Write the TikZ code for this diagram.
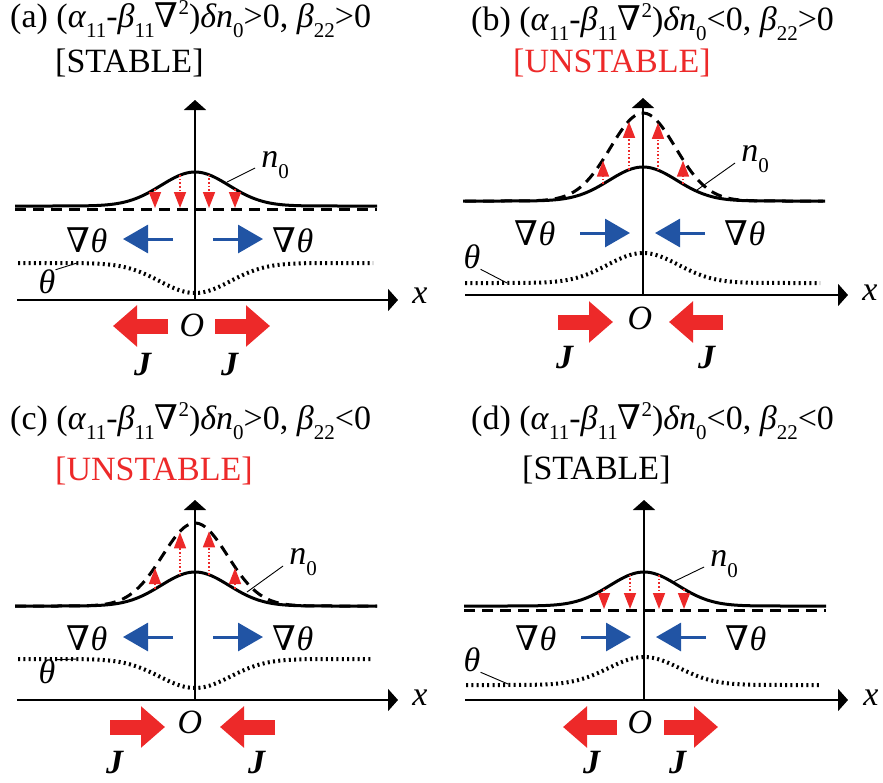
\documentclass[tikz,border=0pt]{standalone}
\usepackage{fontspec}
\setmainfont{Liberation Serif}
\newfontfamily\nablafont{DejaVu Serif}
\usetikzlibrary{arrows.meta}

\definecolor{arrred}{RGB}{237,41,41}
\definecolor{arrblue}{RGB}{33,84,164}

\newcommand{\lowidx}[1]{\raisebox{-0.3em}{\fontsize{21}{21}\selectfont #1}}
\newcommand{\upidx}[1]{\raisebox{0.36em}{\fontsize{21}{21}\selectfont #1}}
\newcommand{\nab}{{\nablafont\symbol{"2207}}}

\tikzset{
  axis/.style={line width=2pt,-{Triangle[width=22pt,length=10pt]}},
  prof/.style={line width=3pt},
  pert/.style={line width=3pt,dash pattern=on 11pt off 7pt},
  thetaline/.style={line width=4pt,dash pattern=on 2pt off 3.3pt},
  leader/.style={line width=0.9pt},
  growarr/.style={arrred,line width=1.6pt,dash pattern=on 1.6pt off 2pt,-{Triangle[width=12pt,length=16pt]}},
  gradarr/.style={arrblue,line width=3pt,-{Triangle[width=28pt,length=25pt]}},
  fluxarr/.style={arrred,line width=15pt,-{Triangle[width=40pt,length=24pt]}},
  lbl/.style={inner sep=0pt,font=\fontsize{34}{36}\selectfont},
}

\begin{document}
\begin{tikzpicture}[x=1pt,y=-1pt,declare function={bump(\t,\s)=exp(-(\t/\s)*(\t/\s));}]
  \useasboundingbox (0,0) rectangle (883,782);

  % --- titles ---
  \node[lbl,anchor=base west] (titlea) at (10,27) {(a) (\textit{α}\lowidx{11}-\textit{β}\lowidx{11}\nab\upidx{2})\textit{δn}\lowidx{0}>0, \textit{β}\lowidx{22}>0};
  \node[lbl,anchor=base west] (statea) at (55,72) {[STABLE]};
  \node[lbl,anchor=base west] (titleb) at (471,30) {(b) (\textit{α}\lowidx{11}-\textit{β}\lowidx{11}\nab\upidx{2})\textit{δn}\lowidx{0}<0, \textit{β}\lowidx{22}>0};
  \node[lbl,anchor=base west,text=arrred] (stateb) at (513,72) {[UNSTABLE]};
  \node[lbl,anchor=base west] (titlec) at (10,429) {(c) (\textit{α}\lowidx{11}-\textit{β}\lowidx{11}\nab\upidx{2})\textit{δn}\lowidx{0}>0, \textit{β}\lowidx{22}<0};
  \node[lbl,anchor=base west,text=arrred] (statec) at (55,480) {[UNSTABLE]};
  \node[lbl,anchor=base west] (titled) at (471,429) {(d) (\textit{α}\lowidx{11}-\textit{β}\lowidx{11}\nab\upidx{2})\textit{δn}\lowidx{0}<0, \textit{β}\lowidx{22}<0};
  \node[lbl,anchor=base west] (stated) at (522,479) {[STABLE]};

  % --- (a) ---
  \begin{scope}[shift={(195,300)}]
    \draw[pert] (-180,-91) -- (182,-91);
    \draw[prof] plot[domain=-180:182,samples=121] (\x,{-94-34*bump(\x,48)});
    \draw[thetaline] plot[domain=-177:178,samples=121] (\x,{-37+30*bump(\x,50)});
    \draw[axis] (-178,0) -- (203,0);
    \draw[axis] (0,0) -- (0,-200);
    \draw[growarr] (-40,{-94-34*bump(-40,48)}) -- (-40,-92);
    \draw[growarr] (-15,{-94-34*bump(-15,48)}) -- (-15,-92);
    \draw[growarr] (14,{-94-34*bump(14,48)}) -- (14,-92);
    \draw[growarr] (40,{-94-34*bump(40,48)}) -- (40,-92);
    \node[lbl] (n0a) at (80,-135) {\textit{n}\lowidx{0}};
    \coordinate (n0a-end) at (32,-118);
    \draw[leader] (n0a.west) ++(-6,3) -- (n0a-end);
    \node[lbl] (gla) at (-108,-60) {\nab\textit{θ}};
    \node[lbl] (gra) at (98,-60) {\nab\textit{θ}};
    \draw[gradarr] (-22,-61) -- (-72,-61);
    \draw[gradarr] (18,-61) -- (68,-61);
    \node[lbl] (tha) at (-148,-18) {\textit{θ}};
    \coordinate (tha-end) at (-118,-37);
    \draw[leader] (tha.north east) -- (tha-end);
    \node[lbl] (Oa) at (-3,25) {\textit{O}};
    \draw[fluxarr] (-27,26) -- (-82,26);
    \draw[fluxarr] (20,26) -- (75,26);
    \node[lbl] (Jla) at (-52,65) {\textbf{\textit{J}}};
    \node[lbl] (Jra) at (35,65) {\textbf{\textit{J}}};
    \node[lbl] (xa) at (225,-4) {\textit{x}};
  \end{scope}

  % --- (b) ---
  \begin{scope}[shift={(643,295)}]
    \draw[pert] plot[domain=-178:180,samples=121] (\x,{-94-88*bump(\x,46)});
    \draw[prof] plot[domain=-180:182,samples=121] (\x,{-94-34*bump(\x,48)});
    \draw[thetaline] plot[domain=-178:177,samples=121] (\x,{-12-30*bump(\x,50)});
    \draw[axis] (-178,0) -- (205,0);
    \draw[axis] (0,0) -- (0,-197);
    \draw[growarr] (-40,{-94-34*bump(-40,48)}) -- (-40,{-93-88*bump(-40,46)});
    \draw[growarr] (-14,{-94-34*bump(-14,48)}) -- (-14,{-93-88*bump(-14,46)});
    \draw[growarr] (15,{-94-34*bump(15,48)}) -- (15,{-93-88*bump(15,46)});
    \draw[growarr] (40,{-94-34*bump(40,48)}) -- (40,{-93-88*bump(40,46)});
    \node[lbl] (n0b) at (112,-136) {\textit{n}\lowidx{0}};
    \coordinate (n0b-end) at (54,-105);
    \draw[leader] (n0b.west) ++(-6,4) -- (n0b-end);
    \node[lbl] (glb) at (-108,-62) {\nab\textit{θ}};
    \node[lbl] (grb) at (102,-62) {\nab\textit{θ}};
    \draw[gradarr] (-63,-62) -- (-13,-62);
    \draw[gradarr] (62,-62) -- (12,-62);
    \node[lbl] (thb) at (-171,-38) {\textit{θ}};
    \coordinate (thb-end) at (-136,-12);
    \draw[leader] (thb.south east) -- (thb-end);
    \node[lbl] (Ob) at (-3,23) {\textit{O}};
    \draw[fluxarr] (-85,27) -- (-30,27);
    \draw[fluxarr] (80,27) -- (26,27);
    \node[lbl] (Jlb) at (-78,63) {\textbf{\textit{J}}};
    \node[lbl] (Jrb) at (64,63) {\textbf{\textit{J}}};
    \node[lbl] (xb) at (227,-2) {\textit{x}};
  \end{scope}

  % --- (c) ---
  \begin{scope}[shift={(195,700)}]
    \draw[pert] plot[domain=-180:182,samples=121] (\x,{-94-83*bump(\x,46)});
    \draw[prof] plot[domain=-180:182,samples=121] (\x,{-94-34*bump(\x,48)});
    \draw[thetaline] plot[domain=-177:178,samples=121] (\x,{-41+29*bump(\x,50)});
    \draw[axis] (-178,0) -- (203,0);
    \draw[axis] (0,0) -- (0,-200);
    \draw[growarr] (-40,{-94-34*bump(-40,48)}) -- (-40,{-93-83*bump(-40,46)});
    \draw[growarr] (-15,{-94-34*bump(-15,48)}) -- (-15,{-93-83*bump(-15,46)});
    \draw[growarr] (14,{-94-34*bump(14,48)}) -- (14,{-93-83*bump(14,46)});
    \draw[growarr] (40,{-94-34*bump(40,48)}) -- (40,{-93-83*bump(40,46)});
    \node[lbl] (n0c) at (108,-138) {\textit{n}\lowidx{0}};
    \coordinate (n0c-end) at (52,-108);
    \draw[leader] (n0c.west) ++(-6,4) -- (n0c-end);
    \node[lbl] (glc) at (-108,-62) {\nab\textit{θ}};
    \node[lbl] (grc) at (98,-62) {\nab\textit{θ}};
    \draw[gradarr] (-22,-63) -- (-72,-63);
    \draw[gradarr] (18,-63) -- (68,-63);
    \node[lbl] (thc) at (-148,-28) {\textit{θ}};
    \coordinate (thc-end) at (-118,-41);
    \draw[leader] (thc.north east) -- (thc-end);
    \node[lbl] (Oc) at (-5,22) {\textit{O}};
    \draw[fluxarr] (-85,27) -- (-30,27);
    \draw[fluxarr] (80,27) -- (25,27);
    \node[lbl] (Jlc) at (-80,63) {\textbf{\textit{J}}};
    \node[lbl] (Jrc) at (62,63) {\textbf{\textit{J}}};
    \node[lbl] (xc) at (225,-2) {\textit{x}};
  \end{scope}

  % --- (d) ---
  \begin{scope}[shift={(644,700)}]
    \draw[pert] (-180,-90) -- (182,-90);
    \draw[prof] plot[domain=-180:182,samples=121] (\x,{-94-34*bump(\x,48)});
    \draw[thetaline] plot[domain=-178:177,samples=121] (\x,{-15-28*bump(\x,50)});
    \draw[axis] (-179,0) -- (204,0);
    \draw[axis] (0,0) -- (0,-200);
    \draw[growarr] (-40,{-94-34*bump(-40,48)}) -- (-40,-91);
    \draw[growarr] (-14,{-94-34*bump(-14,48)}) -- (-14,-91);
    \draw[growarr] (15,{-94-34*bump(15,48)}) -- (15,-91);
    \draw[growarr] (40,{-94-34*bump(40,48)}) -- (40,-91);
    \node[lbl] (n0d) at (80,-136) {\textit{n}\lowidx{0}};
    \coordinate (n0d-end) at (29,-118);
    \draw[leader] (n0d.west) ++(-6,3) -- (n0d-end);
    \node[lbl] (gld) at (-108,-62) {\nab\textit{θ}};
    \node[lbl] (grd) at (102,-62) {\nab\textit{θ}};
    \draw[gradarr] (-63,-63) -- (-13,-63);
    \draw[gradarr] (62,-63) -- (12,-63);
    \node[lbl] (thd) at (-172,-40) {\textit{θ}};
    \coordinate (thd-end) at (-136,-16);
    \draw[leader] (thd.south east) -- (thd-end);
    \node[lbl] (Od) at (-4,22) {\textit{O}};
    \draw[fluxarr] (-27,27) -- (-81,27);
    \draw[fluxarr] (20,27) -- (74,27);
    \node[lbl] (Jld) at (-52,63) {\textbf{\textit{J}}};
    \node[lbl] (Jrd) at (34,63) {\textbf{\textit{J}}};
    \node[lbl] (xd) at (227,-2) {\textit{x}};
  \end{scope}
\end{tikzpicture}
\end{document}
